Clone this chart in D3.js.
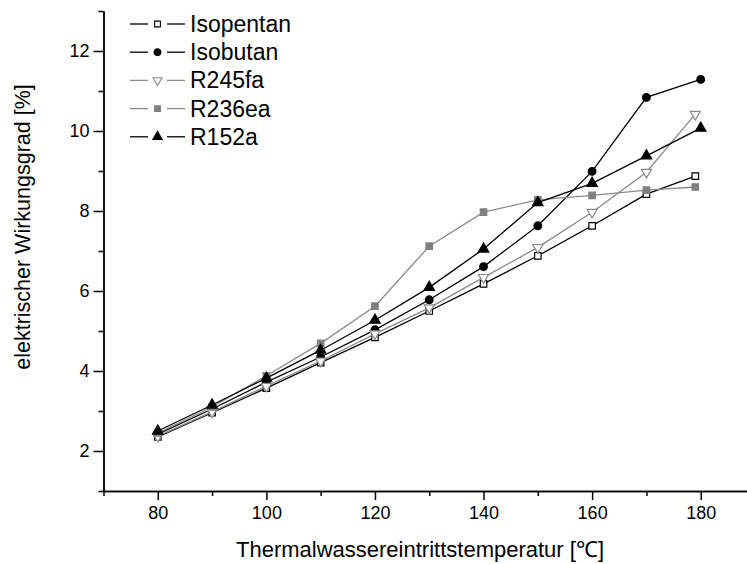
<!DOCTYPE html>
<html>
<head>
<meta charset="utf-8">
<script src="https://cdn.jsdelivr.net/npm/d3@7"></script>
<style>
  body { margin: 0; background: #fff; }
  text { font-family: "Liberation Sans", Arial, sans-serif; fill: #000; }
</style>
</head>
<body>
<div id="chart"></div>
<script>

// temperatures (the last point of three series sits at 179)
var tempsA = [80, 90, 100, 110, 120, 130, 140, 150, 160, 170, 179],
    tempsB = [80, 90, 100, 110, 120, 130, 140, 150, 160, 170, 180];

var isopentan = [2.35, 2.96, 3.57, 4.21, 4.84, 5.50, 6.18, 6.88, 7.63, 8.42, 8.87],
    isobutan  = [2.42, 3.05, 3.72, 4.35, 5.03, 5.78, 6.61, 7.63, 8.99, 10.84, 11.29],
    r245fa    = [2.37, 2.98, 3.62, 4.25, 4.93, 5.58, 6.34, 7.09, 7.97, 8.97, 10.42],
    r236ea    = [2.45, 3.10, 3.88, 4.69, 5.62, 7.12, 7.97, 8.28, 8.39, 8.52, 8.60],
    r152a     = [2.50, 3.15, 3.82, 4.52, 5.27, 6.09, 7.05, 8.21, 8.69, 9.38, 10.07];

var xTicks = [80, 100, 120, 140, 160, 180],
    xMinor = [70, 90, 110, 130, 150, 170, 190],
    yTicks = [2, 4, 6, 8, 10, 12],
    yMinor = [1, 3, 5, 7, 9, 11, 13];

var gray = '#8a8a8a';

// series table built from the arrays above
var series = [
    {name: 'Isopentan', x: tempsA, y: isopentan, line: '#000', sym: d3.symbolSquare, fill: '#fff', stroke: '#000', rot: 0, size: 42},
    {name: 'Isobutan',  x: tempsB, y: isobutan,  line: '#000', sym: d3.symbolCircle, fill: '#000', stroke: '#000', rot: 0, size: 46},
    {name: 'R245fa',    x: tempsA, y: r245fa,    line: gray,   sym: d3.symbolTriangle, fill: '#fff', stroke: gray, rot: 180, size: 44},
    {name: 'R236ea',    x: tempsA, y: r236ea,    line: gray,   sym: d3.symbolSquare, fill: '#808080', stroke: '#808080', rot: 0, size: 42},
    {name: 'R152a',     x: tempsB, y: r152a,     line: '#000', sym: d3.symbolTriangle, fill: '#000', stroke: '#000', rot: 0, size: 48}
];

var width = 747, height = 564;

var svg = d3.select('#chart')
    .append('svg')
    .attr('width', width)
    .attr('height', height);

// scales
var x = d3.scaleLinear().domain([70, 190]).range([103.5, 755]);
var y = d3.scaleLinear().domain([1, 13]).range([491, 11]);

// x axis
var xAxis = svg.append('g').attr('transform', 'translate(0,' + y(1) + ')');
xAxis.call(d3.axisBottom(x).tickValues(xTicks).tickSize(9).tickSizeOuter(0).tickPadding(6));
xAxis.append('g').call(d3.axisBottom(x).tickValues(xMinor).tickSize(5).tickFormat('').tickSizeOuter(0));

// y axis
var yAxis = svg.append('g').attr('transform', 'translate(' + x(70) + ',0)');
yAxis.call(d3.axisLeft(y).tickValues(yTicks).tickSize(10).tickSizeOuter(0).tickPadding(4));
yAxis.append('g').call(d3.axisLeft(y).tickValues(yMinor).tickSize(5).tickFormat('').tickSizeOuter(0));

svg.selectAll('.domain').attr('stroke', '#000').attr('stroke-width', 1.5);
svg.selectAll('.tick line').attr('stroke', '#000').attr('stroke-width', 1.5);
svg.selectAll('.tick text').attr('font-size', 18).attr('font-family', '"Liberation Sans", Arial, sans-serif');

// axis titles
svg.append('text')
    .attr('x', 420)
    .attr('y', 557)
    .attr('text-anchor', 'middle')
    .attr('font-size', 22)
    .text('Thermalwassereintrittstemperatur [\u2103]');

svg.append('text')
    .attr('transform', 'translate(30,' + 227 + ') rotate(-90)')
    .attr('text-anchor', 'middle')
    .attr('font-size', 21.5)
    .text('elektrischer Wirkungsgrad [%]');

// lines
var line = d3.line();

series.forEach(function (s) {
    var pts = s.x.map(function (t, i) { return [x(t), y(s.y[i])]; });

    svg.append('path')
        .attr('d', line(pts))
        .attr('fill', 'none')
        .attr('stroke', s.line)
        .attr('stroke-width', 1.3);

    svg.selectAll(null)
        .data(pts)
        .enter()
        .append('path')
        .attr('d', d3.symbol().type(s.sym).size(s.size))
        .attr('transform', function (d) {
            return 'translate(' + d[0] + ',' + d[1] + ') rotate(' + s.rot + ')';
        })
        .attr('fill', s.fill)
        .attr('stroke', s.stroke)
        .attr('stroke-width', 1.2);
});

// legend
var legend = svg.append('g').attr('class', 'legend');

series.forEach(function (s, i) {
    var ly = 24 + i * 28.2;
    legend.append('line')
        .attr('x1', 130).attr('x2', 148).attr('y1', ly).attr('y2', ly)
        .attr('stroke', s.line).attr('stroke-width', 1.3);
    legend.append('line')
        .attr('x1', 167).attr('x2', 185).attr('y1', ly).attr('y2', ly)
        .attr('stroke', s.line).attr('stroke-width', 1.3);
    legend.append('path')
        .attr('d', d3.symbol().type(s.sym).size(s.size * 0.8))
        .attr('transform', 'translate(157.5,' + ly + ') rotate(' + s.rot + ')')
        .attr('fill', s.fill)
        .attr('stroke', s.stroke)
        .attr('stroke-width', 1.1);
    legend.append('text')
        .attr('x', 190)
        .attr('y', ly + 8)
        .attr('font-size', 23)
        .text(s.name);
});

</script>
</body>
</html>
